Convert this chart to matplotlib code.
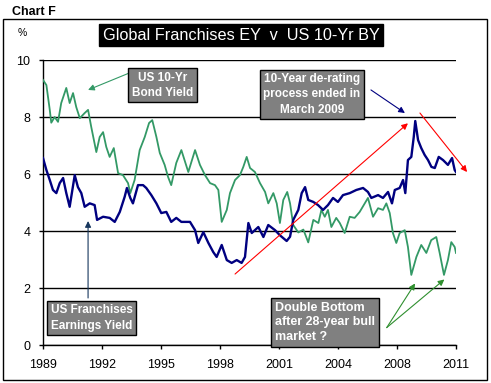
import numpy as np
import matplotlib
matplotlib.use('Agg')
import matplotlib.pyplot as plt
from matplotlib.patches import Rectangle

plt.rcParams['font.family'] = ['Liberation Sans', 'DejaVu Sans']

# --- data (year, %) ---
bond_years = [1989.0, 1989.18, 1989.36, 1989.44, 1989.62, 1989.80, 1989.97, 1990.24, 1990.42, 1990.60,
              1990.77, 1990.96, 1991.22, 1991.40, 1991.57, 1991.84, 1992.02, 1992.20, 1992.37, 1992.55,
              1992.77, 1993.0, 1993.26, 1993.53, 1993.65, 1993.88, 1994.15, 1994.42, 1994.65, 1994.82,
              1995.04, 1995.22, 1995.48, 1995.66, 1995.83, 1996.10, 1996.37, 1996.74, 1997.10, 1997.36,
              1997.63, 1997.90, 1998.16, 1998.34, 1998.52, 1998.79, 1998.96, 1999.23, 1999.49, 1999.67,
              1999.85, 2000.03, 2000.29, 2000.56, 2000.83, 2001.0, 2001.27, 2001.45, 2001.62, 2001.80,
              2002.01, 2002.16, 2002.33, 2002.60, 2002.87, 2003.13, 2003.40, 2003.67, 2003.83, 2004.01,
              2004.18, 2004.36, 2004.62, 2004.81, 2005.07, 2005.34, 2005.60, 2005.87, 2006.14, 2006.31,
              2006.58, 2006.85, 2007.11, 2007.29, 2007.47, 2007.64, 2007.82, 2008.0, 2008.27, 2008.44,
              2008.62, 2008.89, 2009.15, 2009.42, 2009.68, 2009.95, 2010.13, 2010.36, 2010.57, 2010.75,
              2010.93, 2011.0]
bond_yield = [9.3, 9.12, 8.25, 7.8, 8.0, 7.83, 8.49, 9.02, 8.49, 8.84,
              8.35, 7.96, 8.14, 8.25, 7.65, 6.77, 7.3, 7.47, 6.95, 6.6,
              6.91, 6.03, 5.96, 5.68, 5.33, 5.79, 6.84, 7.3, 7.79, 7.89,
              7.3, 6.74, 6.32, 5.9, 5.61, 6.39, 6.84, 6.07, 6.84, 6.32,
              5.96, 5.68, 5.61, 5.44, 4.32, 4.74, 5.33, 5.79, 5.96, 6.25,
              6.6, 6.21, 6.07, 5.68, 5.37, 4.97, 5.33, 4.97, 4.28, 5.09,
              5.37, 4.97, 4.21, 3.95, 4.05, 3.6, 4.39, 4.28, 4.74, 4.5,
              4.74, 4.14, 4.46, 4.28, 3.93, 4.5, 4.46, 4.67, 4.97, 5.16,
              4.5, 4.8, 4.74, 4.97, 4.63, 3.93, 3.58, 3.93, 4.03, 3.44,
              2.46, 3.09, 3.51, 3.23, 3.68, 3.79, 3.23, 2.46, 2.98, 3.61,
              3.44, 3.23]

ey_years = [1989.0, 1989.18, 1989.36, 1989.53, 1989.71, 1989.89, 1990.07, 1990.24, 1990.42, 1990.69,
            1990.86, 1991.04, 1991.22, 1991.49, 1991.75, 1991.88, 1992.20, 1992.55, 1992.82, 1993.09,
            1993.35, 1993.47, 1993.65, 1993.79, 1994.06, 1994.33, 1994.50, 1994.77, 1995.04, 1995.30,
            1995.57, 1995.83, 1996.10, 1996.37, 1996.83, 1997.10, 1997.27, 1997.54, 1997.81, 1998.07,
            1998.25, 1998.52, 1998.79, 1999.05, 1999.32, 1999.58, 1999.76, 1999.94, 2000.12, 2000.47,
            2000.74, 2001.0, 2001.36, 2001.62, 2001.98, 2002.16, 2002.33, 2002.60, 2002.78, 2002.96,
            2003.13, 2003.40, 2003.65, 2003.92, 2004.18, 2004.45, 2004.71, 2004.98, 2005.34, 2005.69,
            2006.05, 2006.31, 2006.49, 2006.85, 2007.11, 2007.38, 2007.59, 2007.74, 2008.0, 2008.18,
            2008.30, 2008.44, 2008.62, 2008.75, 2008.83, 2008.98, 2009.15, 2009.33, 2009.51, 2009.69,
            2009.87, 2010.08, 2010.31, 2010.57, 2010.79, 2010.93, 2011.0]
earn_yield = [6.56, 6.14, 5.79, 5.44, 5.33, 5.68, 5.86, 5.33, 4.85, 5.96,
              5.54, 5.33, 4.85, 4.97, 4.91, 4.39, 4.5, 4.46, 4.32, 4.67,
              5.2, 5.51, 5.16, 4.97, 5.61, 5.61, 5.51, 5.26, 4.97, 4.63,
              4.67, 4.32, 4.46, 4.32, 4.32, 4.03, 3.58, 3.96, 3.58, 3.26,
              3.09, 3.51, 2.98, 2.88, 2.98, 2.88, 3.09, 4.28, 3.93, 4.14,
              3.79, 4.21, 4.03, 3.85, 3.65, 3.8, 4.39, 4.74, 5.33, 5.54,
              5.09, 5.02, 4.91, 4.74, 4.91, 5.16, 5.02, 5.26, 5.33, 5.44,
              5.51, 5.37, 5.16, 5.26, 5.16, 5.37, 4.97, 5.44, 5.51, 5.79,
              5.33, 6.49, 6.6, 7.3, 7.86, 7.19, 6.91, 6.67, 6.49, 6.25,
              6.21, 6.6, 6.49, 6.32, 6.56, 6.14, 6.07]

tick_pos = np.linspace(1989, 2011, 8)
tick_labels = ['1989', '1992', '1995', '1998', '2001', '2004', '2008', '2011']

green = '#339966'
navy = '#000080'

fig = plt.figure(figsize=(4.91, 3.83), dpi=100)
ax = fig.add_axes([0.0876, 0.0992, 0.8411, 0.7441])

ax.plot(bond_years, bond_yield, color=green, lw=1.3, zorder=3)
ax.plot(ey_years, earn_yield, color=navy, lw=1.7, zorder=4)

ax.set_xlim(1989, 2011)
ax.set_ylim(0, 10)
ax.set_yticks([0, 2, 4, 6, 8, 10])
ax.set_xticks(tick_pos)
ax.set_xticklabels(tick_labels)
ax.tick_params(axis='both', direction='out', length=3, width=1, labelsize=9)
ax.tick_params(axis='y', pad=6)
ax.tick_params(axis='x', pad=7)
ax.yaxis.grid(True, color='black', lw=1)
ax.set_axisbelow(True)
for s in ['top', 'right']:
    ax.spines[s].set_visible(False)
for s in ['left', 'bottom']:
    ax.spines[s].set_linewidth(1)

# annotation boxes
box = dict(boxstyle='square,pad=0.3', fc='#808080', ec='black', lw=1)
ax.text(1995.37, 9.12, 'US 10-Yr\nBond Yield', color='white', fontweight='bold',
        fontsize=8.5, ha='center', va='center', bbox=box, zorder=6, linespacing=1.35)
ax.text(2003.33, 8.79, '10-Year de-rating\nprocess ended in\nMarch 2009', color='white',
        fontweight='bold', fontsize=8.5, ha='center', va='center', bbox=box, zorder=6,
        linespacing=1.35)
ax.text(1989.4, 0.95, 'US Franchises\nEarnings Yield', color='white', fontweight='bold',
        fontsize=8.5, ha='left', va='center', bbox=box, zorder=6, linespacing=1.35)
ax.text(2001.35, 0.80, 'Double Bottom\nafter 28-year bull\nmarket ?', color='white',
        fontweight='bold', fontsize=9, ha='left', va='center', bbox=box, zorder=6,
        linespacing=1.3, clip_on=False)

def arrow(tail, head, color, lw=0.8):
    ax.annotate('', xy=head, xytext=tail, annotation_clip=False, zorder=5,
                arrowprops=dict(arrowstyle='-|>', color=color, lw=lw,
                                mutation_scale=9, shrinkA=0, shrinkB=0))

arrow((1993.58, 9.54), (1991.40, 8.95), green)
arrow((2006.47, 8.95), (2008.28, 8.14), navy)
arrow((1991.40, 1.65), (1991.40, 4.35), '#17375e')
arrow((2007.31, 0.61), (2008.82, 2.16), '#2f8f2f')
arrow((2007.31, 0.61), (2010.38, 2.30), '#2f8f2f')
arrow((1999.23, 2.49), (2008.44, 7.78), 'red')
arrow((2009.08, 8.14), (2011.59, 6.07), 'red')

# title and frame
fig.text(0.491, 0.9086, 'Global Franchises EY  v  US 10-Yr BY', color='white', fontsize=11.7,
         ha='center', va='center',
         bbox=dict(boxstyle='square,pad=0.22', fc='black', ec='black'))
fig.text(0.024, 0.969, 'Chart F', fontsize=9, fontweight='bold', ha='left', va='center')
fig.text(0.035, 0.913, '%', fontsize=7.5, ha='left', va='center')
fig.add_artist(Rectangle((0.0061, 0.0078), 0.9857, 0.9426, transform=fig.transFigure,
                         fill=False, ec='black', lw=1))

fig.savefig('out.png', dpi=100)
